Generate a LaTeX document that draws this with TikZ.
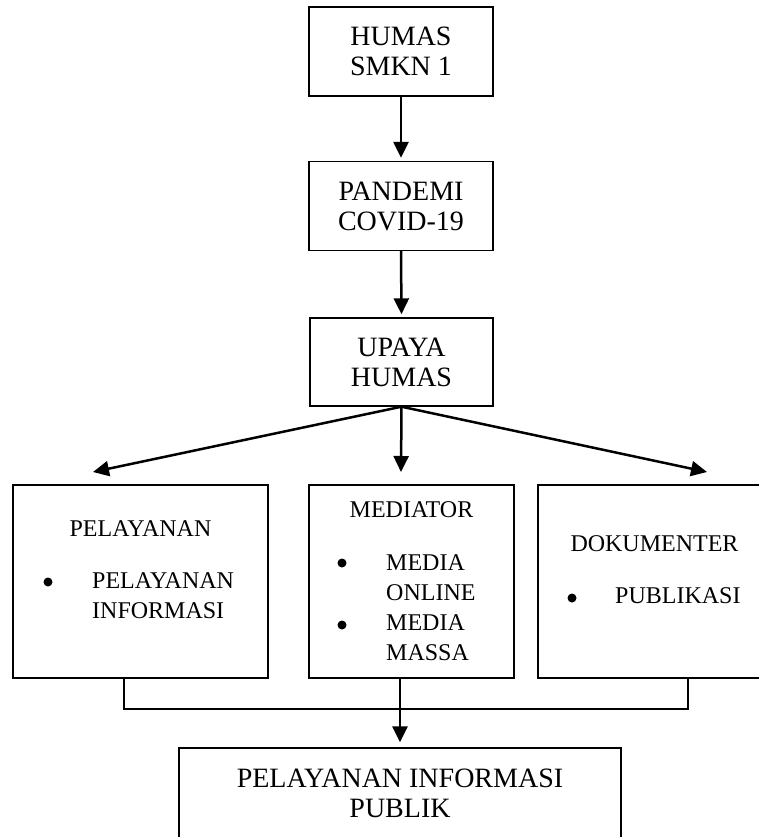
\documentclass[tikz,border=0pt]{standalone}
\usepackage{fontspec}
\setmainfont{Liberation Serif}
\usetikzlibrary{arrows.meta}
\begin{document}
\begin{tikzpicture}[x=1pt,y=-1pt,
  box/.style={draw, line width=1.4pt, inner sep=0pt},
  bigbox/.style={box, minimum width=184pt, minimum height=89pt, align=center, font=\fontsize{28}{30}\selectfont},
  rowbox/.style={box, minimum height=193pt},
  rowtxt/.style={inner sep=0pt, font=\fontsize{24}{30}\selectfont},
  dotmark/.style={circle, fill, inner sep=0pt, minimum size=9pt},
  arr/.style={line width=2.5pt, -{Triangle[length=16pt,width=15pt]}},
  link/.style={line width=1.6pt}
]
\useasboundingbox (0,0) rectangle (759,837);
\clip (0,0) rectangle (759,837);

% top chain
\node[bigbox] (b1) at (401,51.5) {HUMAS\\SMKN 1};
\node[bigbox] (b2) at (401,206) {PANDEMI\\COVID-19};
\node[bigbox, minimum width=183pt, minimum height=88pt] (b3) at (401.5,362) {UPAYA\\HUMAS};

% row boxes
\node[rowbox, minimum width=255pt] (r1) at (140.5,581.5) {};
\node[rowbox, minimum width=205pt] (r2) at (411.5,581.5) {};
\node[rowbox, minimum width=233pt] (r3) at (654.5,581.5) {};

% bottom box
\node[box, minimum width=442pt, minimum height=91pt, align=center, font=\fontsize{28}{30}\selectfont] (b4) at (400,793.5) {PELAYANAN INFORMASI\\PUBLIK};

% texts in row boxes
\node[rowtxt, anchor=base] (t1) at (140.5,536) {PELAYANAN};
\node[dotmark] (d1) at (48,582) {};
\node[rowtxt, anchor=base west] (t1a) at (92,588) {PELAYANAN};
\node[rowtxt, anchor=base west] (t1b) at (92,618) {INFORMASI};

\node[rowtxt, anchor=base] (t2) at (411.5,517) {MEDIATOR};
\node[dotmark] (d2) at (342,563) {};
\node[rowtxt, anchor=base west] (t2a) at (386,570) {MEDIA};
\node[rowtxt, anchor=base west] (t2b) at (386,600) {ONLINE};
\node[dotmark] (d3) at (342,625) {};
\node[rowtxt, anchor=base west] (t2c) at (386,630) {MEDIA};
\node[rowtxt, anchor=base west] (t2d) at (386,660) {MASSA};

\node[rowtxt, anchor=base] (t3) at (654.5,551) {DOKUMENTER};
\node[dotmark] (d4) at (572,598) {};
\node[rowtxt, anchor=base west] (t3a) at (615,603) {PUBLIKASI};

% arrows
\draw[arr, shorten >=3pt] (b1.south) -- (b2.north);
\draw[arr, shorten >=3pt] (b2.south) -- (b3.north);
\coordinate (tl) at (93,472);
\coordinate (tm) at (401,472);
\coordinate (tr) at (707,472);
\draw[arr] (b3.south) -- (tl);
\draw[arr] (b3.south) -- (tm);
\draw[arr] (b3.south) -- (tr);

% bracket
\coordinate (c1) at (r1.south -| 124,0);
\coordinate (c3) at (r3.south -| 688,0);
\draw[link] (c1) -- ++(0,30) -| (c3);
\draw[arr, shorten >=5pt] (r2.south -| b4.north) -- (b4.north);
\end{tikzpicture}
\end{document}
